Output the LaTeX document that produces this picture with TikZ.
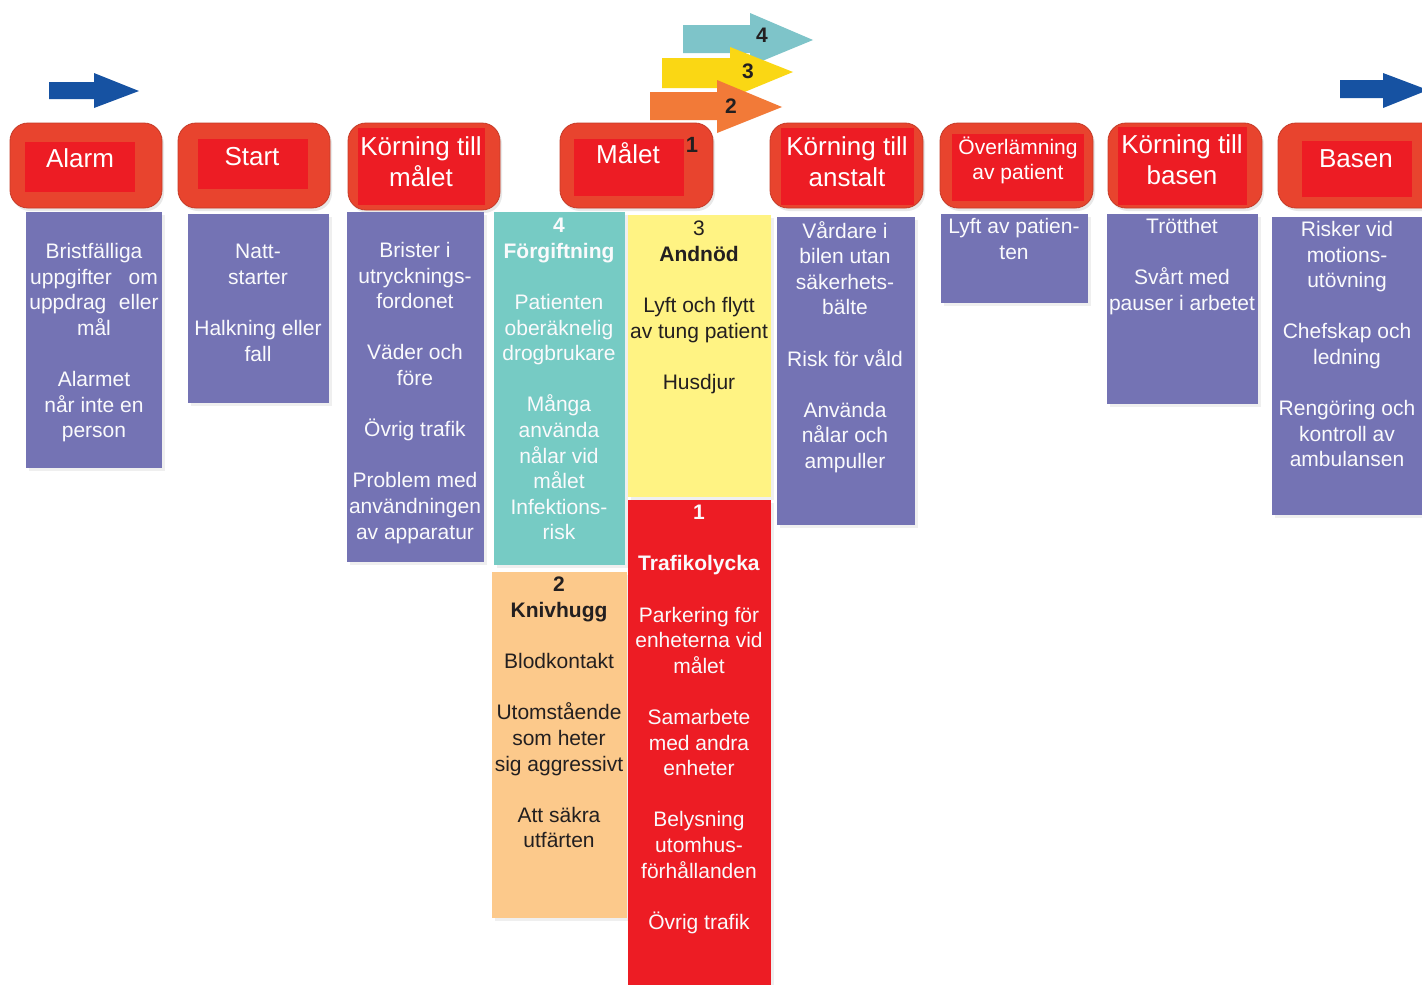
\documentclass[tikz,border=0pt]{standalone}
\usepackage{fontspec}
\setmainfont{Liberation Sans}
\usetikzlibrary{shadows,fit}
\definecolor{hdrOuter}{RGB}{232,68,46}
\definecolor{hdrInner}{RGB}{237,28,36}
\definecolor{bodyPurple}{RGB}{116,115,180}
\definecolor{tealBox}{RGB}{118,203,196}
\definecolor{yellowBox}{RGB}{255,243,131}
\definecolor{redBox}{RGB}{237,28,36}
\definecolor{peachBox}{RGB}{252,201,139}
\definecolor{arrowBlue}{RGB}{22,82,162}
\definecolor{arrowTeal}{RGB}{126,196,201}
\definecolor{arrowYellow}{RGB}{250,215,20}
\definecolor{arrowOrange}{RGB}{242,122,56}
\definecolor{darkText}{RGB}{35,31,32}
\definecolor{offWhite}{RGB}{250,250,252}
\newlength{\bl}
\setlength{\bl}{25.6pt}
\tikzset{
  hdrouter/.style={draw=hdrOuter!85!black, line width=0.8pt, fill=hdrOuter, rounded corners=18pt, inner sep=0pt,
    drop shadow={shadow xshift=2pt, shadow yshift=-3pt, opacity=0.18}},
  hdrinner/.style={fill=hdrInner, inner sep=0pt},
  hdrtext/.style={font=\fontsize{26}{31}\selectfont, text=white, align=center, inner sep=0pt},
  hdrsmall/.style={font=\fontsize{21}{25}\selectfont, text=white, align=center, inner sep=0pt},
  bodybox/.style={fill=#1, inner sep=0pt, drop shadow={shadow xshift=3pt, shadow yshift=-3pt, opacity=0.12}},
  bodytext/.style={font=\fontsize{21}{25.6}\selectfont, text=offWhite, align=center, inner sep=0pt},
  darktext/.style={bodytext, text=darkText},
  numlabel/.style={font=\bfseries\fontsize{21}{25}\selectfont, text=darkText, inner sep=0pt},
}
\begin{document}
\begin{tikzpicture}[x=1pt,y=-1pt]
\useasboundingbox (0,0) rectangle (1422,985);
\clip (0,0) rectangle (1422,985);
\fill[white] (0,0) rectangle (1422,985);

% blue direction arrows
\fill[arrowBlue] (49,82) -- (94,82) -- (94,73) -- (139,91) -- (94,108) -- (94,99) -- (49,99) -- cycle;
\fill[arrowBlue] (1340,80) -- (1383,80) -- (1383,73) -- (1428,90) -- (1383,108) -- (1383,98) -- (1340,98) -- cycle;

% stacked priority arrows
\fill[arrowTeal] (683,25) -- (750,25) -- (750,13) -- (813,40) -- (750,66) -- (750,53) -- (683,53) -- cycle;
\fill[arrowYellow] (662,58) -- (730,58) -- (730,47) -- (793,72) -- (730,98) -- (730,88) -- (662,88) -- cycle;
\fill[arrowOrange] (650,92) -- (717,92) -- (717,80) -- (782,107) -- (717,133) -- (717,120) -- (650,120) -- cycle;
\node[numlabel] (n4) at (762,35) {4};
\node[numlabel] (n3) at (748,71) {3};
\node[numlabel] (n2) at (731,106) {2};

% headers
\node[hdrouter, fit={(10,123)(162,208)}] (h1) {};
\node[hdrinner, fit={(25,142)(135,192)}] (h1i) {};
\node[hdrtext, anchor=base] (h1t) at (80,167) {Alarm};

\node[hdrouter, fit={(178,123)(330,208)}] (h2) {};
\node[hdrinner, fit={(198,139)(308,189)}] (h2i) {};
\node[hdrtext, anchor=base] (h2t) at (252,165) {Start};

\node[hdrouter, fit={(348,123)(500,210)}] (h3) {};
\node[hdrinner, fit={(358,128)(485,205)}] (h3i) {};
\node[hdrtext, anchor=north] (h3t) at (421,136) {Körning till\\målet};

\node[hdrouter, fit={(560,123)(713,208)}] (h4) {};
\node[hdrinner, fit={(574,139)(684,196)}] (h4i) {};
\node[hdrtext, anchor=base] (h4t) at (628,163) {Målet};
\node[numlabel, font=\bfseries\fontsize{22}{26}\selectfont] (n1) at (692,145) {1};

\node[hdrouter, fit={(770,123)(923,208)}] (h5) {};
\node[hdrinner, fit={(781,128)(914,205)}] (h5i) {};
\node[hdrtext, anchor=north] (h5t) at (847,136) {Körning till\\anstalt};

\node[hdrouter, fit={(940,123)(1093,208)}] (h6) {};
\node[hdrinner, fit={(952,134)(1084,201)}] (h6i) {};
\node[hdrsmall, anchor=north] (h6t) at (1018,137) {Överlämning\\av patient};

\node[hdrouter, fit={(1108,123)(1262,208)}] (h7) {};
\node[hdrinner, fit={(1118,127)(1247,205)}] (h7i) {};
\node[hdrtext, anchor=north] (h7t) at (1182,134) {Körning till\\basen};

\node[hdrouter, fit={(1278,123)(1445,208)}] (h8) {};
\node[hdrinner, fit={(1302,141)(1412,197)}] (h8i) {};
\node[hdrtext, anchor=base] (h8t) at (1356,167) {Basen};

% body boxes
\node[bodybox=bodyPurple, fit={(26,212)(162,468)}] (b1) {};
\node[bodytext, anchor=north] (t1) at (94,243) {Bristfälliga\\uppgifter\hspace{0.8em}om\\uppdrag\hspace{0.6em}eller\\mål\\[\bl]Alarmet\\når inte en\\person};

\node[bodybox=bodyPurple, fit={(188,214)(329,403)}] (b2) {};
\node[bodytext, anchor=north] (t2) at (258,244) {Natt-\\starter\\[\bl]Halkning eller\\fall};

\node[bodybox=bodyPurple, fit={(347,212)(484,562)}] (b3) {};
\node[bodytext, anchor=north] (t3) at (415,242) {Brister i\\utrycknings-\\fordonet\\[\bl]Väder och\\före\\[\bl]Övrig trafik\\[\bl]Problem med\\användningen\\av apparatur};

\node[bodybox=tealBox, fit={(494,212)(625,565)}] (b4) {};
\node[bodytext, anchor=north] (t4) at (559,218) {\textbf{4}\\\textbf{Förgiftning}\\[\bl]Patienten\\oberäknelig\\drogbrukare\\[\bl]Många\\använda\\nålar vid\\målet\\Infektions-\\risk};

\node[bodybox=peachBox, fit={(492,572)(627,918)}] (b5) {};
\node[darktext, anchor=north] (t5) at (559,577) {\textbf{2}\\\textbf{Knivhugg}\\[\bl]Blodkontakt\\[\bl]Utomstående\\som heter\\sig aggressivt\\[\bl]Att säkra\\utfärten};

\node[bodybox=yellowBox, fit={(628,215)(771,497)}] (b6) {};
\node[darktext, anchor=north] (t6) at (699,221) {3\\\textbf{Andnöd}\\[\bl]Lyft och flytt\\av tung patient\\[\bl]Husdjur};

\node[bodybox=redBox, fit={(628,500)(771,995)}] (b7) {};
\node[bodytext, anchor=north] (t7) at (699,505) {\textbf{1}\\[\bl]\textbf{Trafikolycka}\\[\bl]Parkering för\\enheterna vid\\målet\\[\bl]Samarbete\\med andra\\enheter\\[\bl]Belysning\\utomhus-\\förhållanden\\[\bl]Övrig trafik};

\node[bodybox=bodyPurple, fit={(777,217)(915,525)}] (b8) {};
\node[bodytext, anchor=north] (t8) at (845,221) {Vårdare i\\bilen utan\\säkerhets-\\bälte\\[\bl]Risk för våld\\[\bl]Använda\\nålar och\\ampuller};

\node[bodybox=bodyPurple, fit={(941,214)(1088,303)}] (b9) {};
\node[bodytext, anchor=north] (t9) at (1014,218) {Lyft av patien-\\ten};

\node[bodybox=bodyPurple, fit={(1107,214)(1258,404)}] (b10) {};
\node[bodytext, anchor=north] (t10) at (1182,218) {Trötthet\\[\bl]Svårt med\\pauser i arbetet};

\node[bodybox=bodyPurple, fit={(1272,217)(1440,515)}] (b11) {};
\node[bodytext, anchor=north] (t11) at (1347,221) {Risker vid\\motions-\\utövning\\[\bl]Chefskap och\\ledning\\[\bl]Rengöring och\\kontroll av\\ambulansen};
\end{tikzpicture}
\end{document}
